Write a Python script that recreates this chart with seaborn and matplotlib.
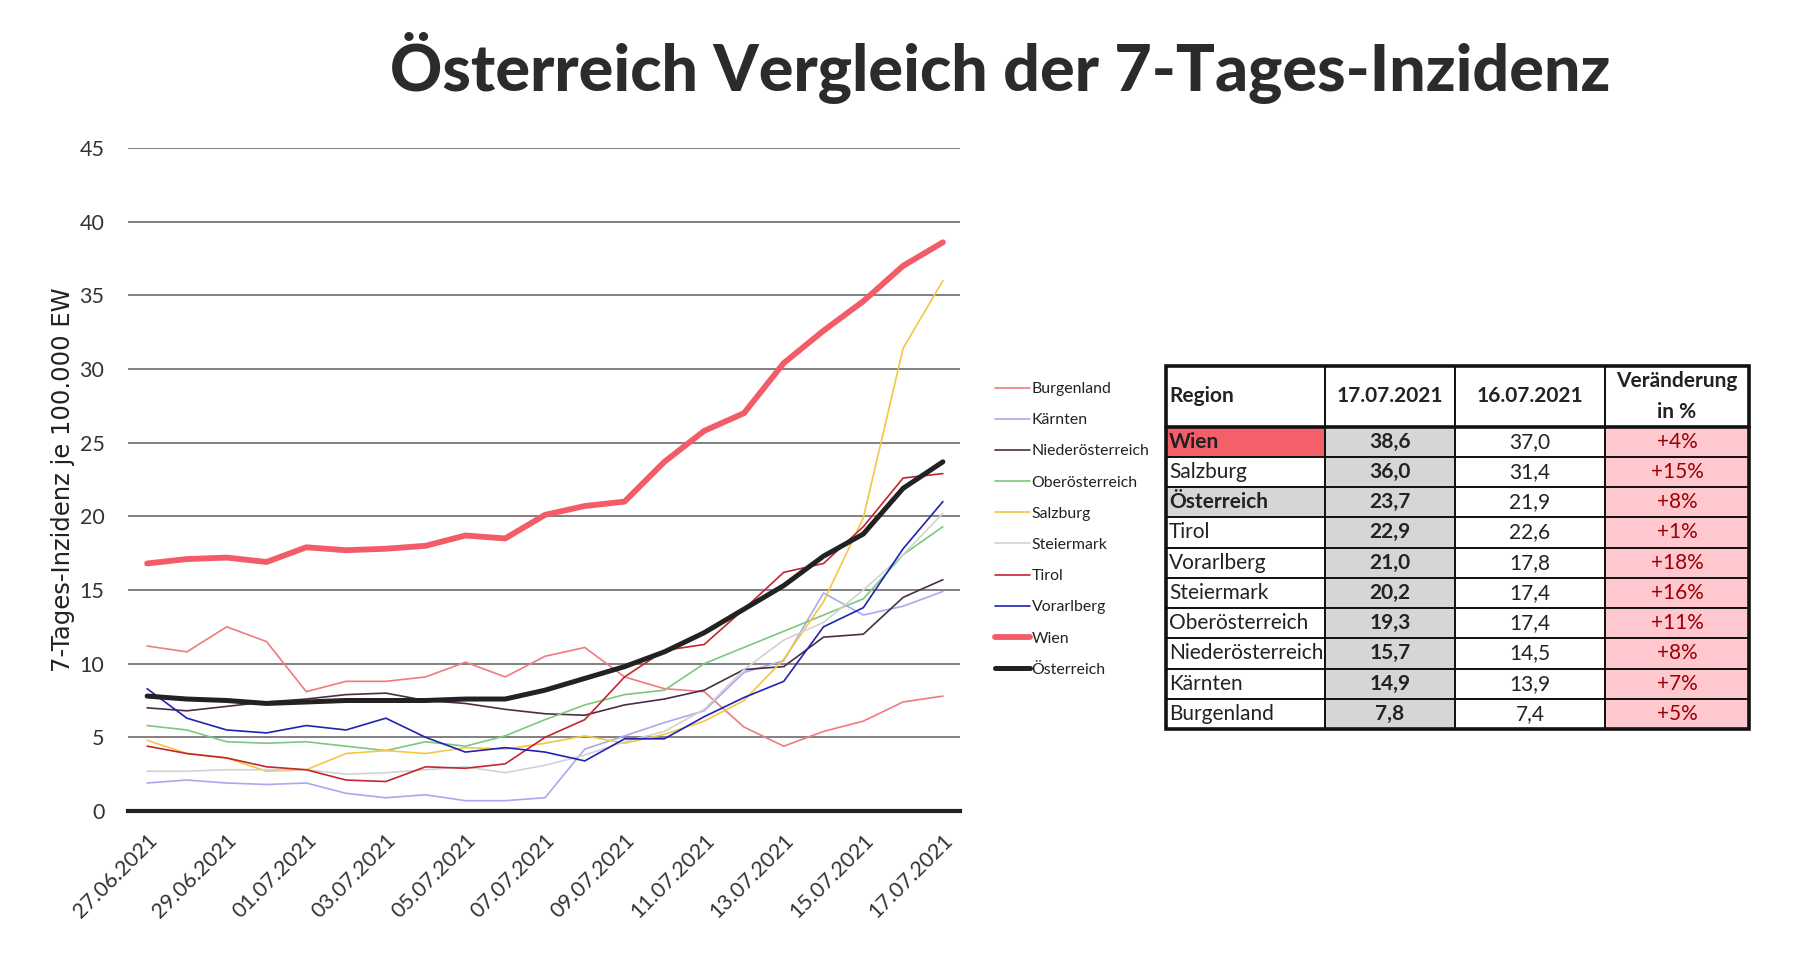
import seaborn as sns
import pandas as pd
import numpy as np
import matplotlib.pyplot as plt
from matplotlib.patches import Rectangle

# ---------------------------------------------------------------------------
# Daten (7-Tages-Inzidenz je 100.000 EW)
dates = ['27.06.2021', '28.06.2021', '29.06.2021', '30.06.2021', '01.07.2021',
         '02.07.2021', '03.07.2021', '04.07.2021', '05.07.2021', '06.07.2021',
         '07.07.2021', '08.07.2021', '09.07.2021', '10.07.2021', '11.07.2021',
         '12.07.2021', '13.07.2021', '14.07.2021', '15.07.2021', '16.07.2021',
         '17.07.2021']

burgenland = [11.2, 10.8, 12.5, 11.5, 8.1, 8.8, 8.8, 9.1, 10.1, 9.1, 10.5,
              11.1, 9.1, 8.3, 8.1, 5.7, 4.4, 5.4, 6.1, 7.4, 7.8]
kaernten = [1.9, 2.1, 1.9, 1.8, 1.9, 1.2, 0.9, 1.1, 0.7, 0.7, 0.9,
            4.2, 5.1, 6.0, 6.8, 9.4, 10.2, 14.8, 13.3, 13.9, 14.9]
niederoesterreich = [7.0, 6.8, 7.1, 7.4, 7.6, 7.9, 8.0, 7.5, 7.3, 6.9, 6.6,
                     6.5, 7.2, 7.6, 8.2, 9.6, 9.8, 11.8, 12.0, 14.5, 15.7]
oberoesterreich = [5.8, 5.5, 4.7, 4.6, 4.7, 4.4, 4.1, 4.7, 4.4, 5.1, 6.2,
                   7.2, 7.9, 8.2, 10.0, 11.1, 12.2, 13.3, 14.4, 17.4, 19.3]
salzburg = [4.8, 3.9, 3.6, 2.7, 2.8, 3.9, 4.1, 3.9, 4.3, 4.2, 4.6,
            5.1, 4.6, 5.2, 6.1, 7.5, 10.3, 14.2, 19.9, 31.4, 36.0]
steiermark = [2.7, 2.7, 2.8, 2.8, 2.8, 2.5, 2.6, 2.8, 3.0, 2.6, 3.1,
              3.8, 4.7, 5.4, 6.9, 9.6, 11.6, 12.8, 15.0, 17.4, 20.2]
tirol = [4.4, 3.9, 3.6, 3.0, 2.8, 2.1, 2.0, 3.0, 2.9, 3.2, 5.0,
         6.2, 9.1, 10.9, 11.3, 13.7, 16.2, 16.8, 19.3, 22.6, 22.9]
vorarlberg = [8.3, 6.3, 5.5, 5.3, 5.8, 5.5, 6.3, 5.0, 4.0, 4.3, 4.0,
              3.4, 4.9, 4.9, 6.4, 7.7, 8.8, 12.5, 13.8, 17.8, 21.0]
wien = [16.8, 17.1, 17.2, 16.9, 17.9, 17.7, 17.8, 18.0, 18.7, 18.5, 20.1,
        20.7, 21.0, 23.7, 25.8, 27.0, 30.4, 32.6, 34.6, 37.0, 38.6]
oesterreich = [7.8, 7.6, 7.5, 7.3, 7.4, 7.5, 7.5, 7.5, 7.6, 7.6, 8.2,
               9.0, 9.8, 10.8, 12.1, 13.7, 15.3, 17.3, 18.8, 21.9, 23.7]

regions = ['Burgenland', 'Kärnten', 'Niederösterreich', 'Oberösterreich',
           'Salzburg', 'Steiermark', 'Tirol', 'Vorarlberg', 'Wien', 'Österreich']
values = [burgenland, kaernten, niederoesterreich, oberoesterreich, salzburg,
          steiermark, tirol, vorarlberg, wien, oesterreich]

line_colors = ['#f07a7f', '#a9a9ee', '#4b2d48', '#7cc87c', '#f2c744',
               '#d2d2d2', '#c3262e', '#1f23b0', '#f25c66', '#222222']
line_widths = [1.2, 1.2, 1.2, 1.2, 1.2, 1.2, 1.2, 1.2, 4.2, 3.6]

df = pd.DataFrame({
    'Tag': np.tile(np.arange(len(dates)), len(regions)),
    'Region': np.repeat(regions, len(dates)),
    'Wert': np.concatenate(values),
})

# ---------------------------------------------------------------------------
# Figur
W, H = 1793, 969
sns.set_theme(style='white')
plt.rcParams['font.family'] = ['Lato', 'DejaVu Sans']
fig = plt.figure(figsize=(W / 100, H / 100), dpi=100)
fig.patch.set_facecolor('white')

ax = fig.add_axes([128 / W, 1 - 811 / H, 832 / W, 663 / H])

for name, col, lw in zip(regions, line_colors, line_widths):
    sns.lineplot(data=df[df['Region'] == name], x='Tag', y='Wert', ax=ax,
                 color=col, linewidth=lw, label=name)

ax.set_ylim(0, 45)
ax.set_xlim(-0.48, 20.43)
ax.set_yticks(range(0, 46, 5))
ax.set_xticks(range(0, len(dates), 2))
ax.set_xticklabels(dates[::2], rotation=45, ha='right', va='top',
                   rotation_mode='anchor', fontsize=15.5, color='#333333')
for t in ax.get_yticklabels():
    t.set_fontsize(15.5)
    t.set_color('#333333')
ax.tick_params(axis='y', length=0, pad=17)
ax.tick_params(axis='x', length=0, pad=14)

ax.grid(axis='y', color='#5e5e5e', linewidth=1.1)
ax.grid(axis='x', visible=False)
for s in ['top', 'right', 'left']:
    ax.spines[s].set_visible(False)
ax.spines['bottom'].set_color('#222222')
ax.spines['bottom'].set_linewidth(3)
ax.set_xlabel('')
ax.set_ylabel('7-Tages-Inzidenz je 100.000 EW', fontsize=17.5,
              family='DejaVu Sans', color='#222222')
ax.yaxis.set_label_coords(-0.064, 0.5)

handles, labels = ax.get_legend_handles_labels()
ax.legend(handles, labels, loc='upper left', frameon=False,
          bbox_to_anchor=(995 / W, 1 - 382 / H), bbox_transform=fig.transFigure,
          fontsize=11.4, handlelength=2.2, handletextpad=0.12,
          labelspacing=1.08, borderpad=0, borderaxespad=0, labelcolor='#222222')

# Titel
fig.text(1000 / W, 1 - 91 / H, 'Österreich Vergleich der 7-Tages-Inzidenz',
         ha='center', va='baseline', fontsize=46.5, fontweight='black',
         color='#2b2b2b')

# ---------------------------------------------------------------------------
# Tabelle
def fmt(v):
    return f'{v:.1f}'.replace('.', ',')

order = sorted(range(len(regions)), key=lambda i: -values[i][-1])
header = ['Region', dates[-1], dates[-2], 'Veränderung\nin %']
rows = []
for i in order:
    cur, prev = values[i][-1], values[i][-2]
    rows.append([regions[i], fmt(cur), fmt(prev),
                 f'+{round((cur / prev - 1) * 100):d}%'])

tab_ax = fig.add_axes([1166 / W, 1 - 729 / H, 583 / W, 363 / H])
tab_ax.axis('off')
table = tab_ax.table(cellText=[header] + rows, colWidths=[159, 130, 150, 144],
                     cellLoc='center', bbox=[0, 0, 1, 1])
table.auto_set_font_size(False)
table.set_fontsize(15)

for (r, c), cell in table.get_celld().items():
    cell.set_edgecolor('#111111')
    cell.set_linewidth(1.4)
    cell.set_height(2 if r == 0 else 1)
    txt = cell.get_text()
    txt.set_color('#222222')
    if c == 0:
        txt.set_ha('left')
        cell.PAD = 0.02
    if r == 0:
        txt.set_fontweight('bold')
        txt.set_linespacing(1.7)
        continue
    name = rows[r - 1][0]
    if c == 0 and name == 'Wien':
        cell.set_facecolor('#f45f69')
        txt.set_fontweight('bold')
    elif c == 0 and name == 'Österreich':
        cell.set_facecolor('#d6d6d6')
        txt.set_fontweight('bold')
    elif c == 1:
        cell.set_facecolor('#d6d6d6')
        txt.set_fontweight('bold')
    elif c == 3:
        cell.set_facecolor('#ffc7ce')
        txt.set_color('#9c0006')

tab_ax.add_patch(Rectangle((0, 0), 1, 1, fill=False, lw=2.6,
                           edgecolor='#111111', transform=tab_ax.transAxes,
                           clip_on=False, zorder=5))
tab_ax.plot([0, 1], [10 / 12, 10 / 12], color='#111111', lw=2.6,
            transform=tab_ax.transAxes, clip_on=False, zorder=5)

fig.savefig('out.png', dpi=100, facecolor='white')
